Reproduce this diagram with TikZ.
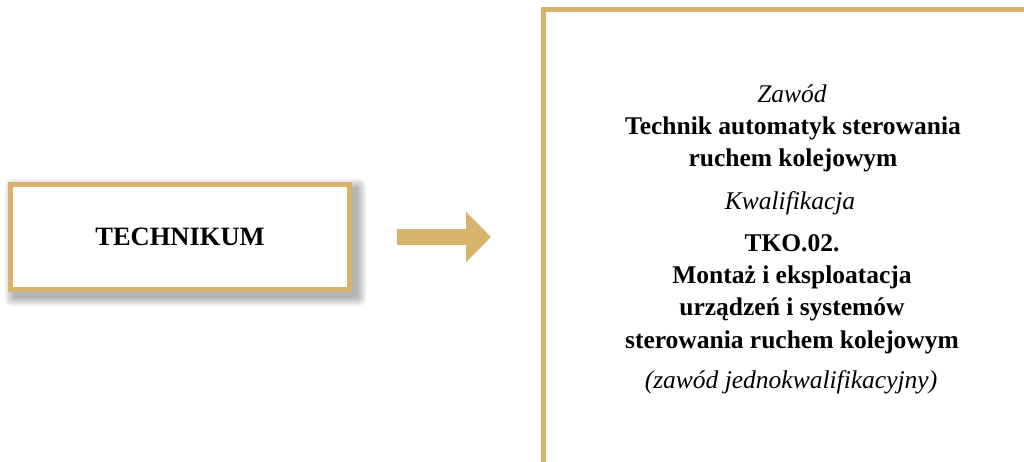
\documentclass[tikz,border=0pt]{standalone}
\usepackage{fontspec}
\setmainfont{Liberation Serif}
\usetikzlibrary{arrows.meta,backgrounds}
\definecolor{gold}{RGB}{214,180,108}
\tikzset{
  goldbox/.style={draw=gold, line width=5pt, fill=white, rectangle, outer sep=0pt, inner sep=0pt},
  boldline/.style={anchor=base, font=\fontsize{25.5}{30}\selectfont\bfseries, inner sep=0pt},
  itline/.style={anchor=base, font=\fontsize{25.5}{30}\selectfont\itshape, inner sep=0pt},
  bigarrow/.style={draw=gold, line width=16pt, -{Triangle[length=25pt,width=49pt]}},
  shadelayer/.style={fill=black, fill opacity=0.03}
}
\begin{document}
\begin{tikzpicture}[x=1pt,y=-1pt]
\useasboundingbox (0,0) rectangle (1024,461);
\clip (0,0) rectangle (1024,461);
\node[goldbox, minimum width=339pt, minimum height=105pt,
  font=\fontsize{26.5}{30}\selectfont\bfseries] (L) at (180,237) {TECHNIKUM};
\begin{scope}[on background layer]
\fill[white] (0,0) rectangle (1024,461);
\foreach \r in {9,8,...,0}{
  \fill[shadelayer, rounded corners=\r pt]
    ([shift={(3-\r,3-\r)}]L.north west) rectangle ([shift={(8+\r,8+\r)}]L.south east);
}
\end{scope}
\node[goldbox, anchor=north west, minimum width=600pt, minimum height=600pt] (R) at (543.5,9.5) {};
\draw[bigarrow] ([xshift=47.5pt]L.east) -- ([xshift=-52.5pt]L.east -| R.west);
\node[itline] (t1) at (792,102) {Zawód};
\node[boldline] (t2) at (793,134) {Technik automatyk sterowania};
\node[boldline] (t3) at (793,166) {ruchem kolejowym};
\node[itline] (t4) at (790,209) {Kwalifikacja};
\node[boldline] (t5) at (792,251) {TKO.02.};
\node[boldline] (t6) at (792,283) {Montaż i eksploatacja};
\node[boldline] (t7) at (792,315) {urządzeń i systemów};
\node[boldline] (t8) at (792,348) {sterowania ruchem kolejowym};
\node[itline] (t9) at (791,388) {(zawód jednokwalifikacyjny)};
\end{tikzpicture}
\end{document}
